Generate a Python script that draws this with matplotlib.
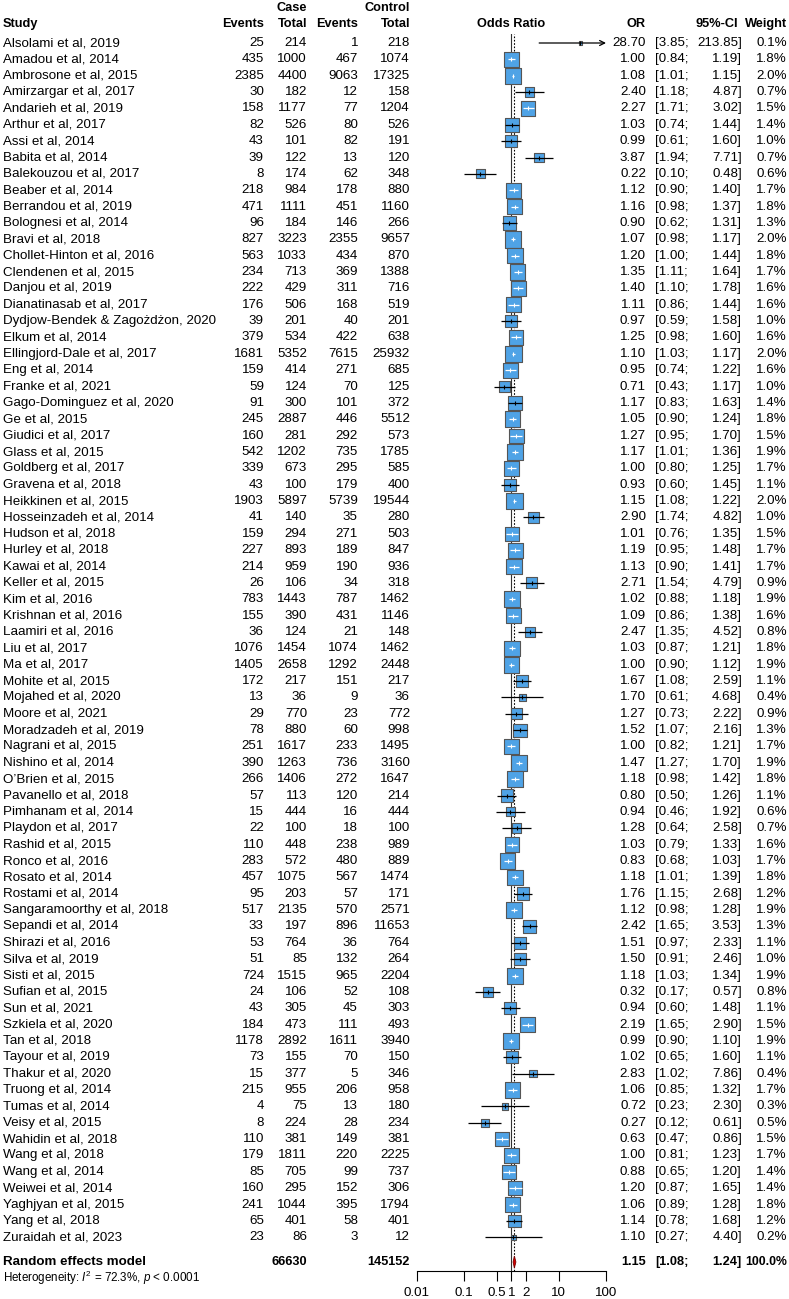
import matplotlib
matplotlib.use('Agg')
import matplotlib.pyplot as plt
from matplotlib import font_manager as fm
import numpy as np

# ---------------- data ----------------
studies = ["Alsolami et al, 2019", "Amadou et al, 2014", "Ambrosone et al, 2015", "Amirzargar et al, 2017",
           "Andarieh et al, 2019", "Arthur et al, 2017", "Assi et al, 2014", "Babita et al, 2014",
           "Balekouzou et al, 2017", "Beaber et al, 2014", "Berrandou et al, 2019", "Bolognesi et al, 2014",
           "Bravi et al, 2018", "Chollet-Hinton et al, 2016", "Clendenen et al, 2015", "Danjou et al, 2019",
           "Dianatinasab et al, 2017", "Dydjow-Bendek & Zagożdżon, 2020", "Elkum et al, 2014",
           "Ellingjord-Dale et al, 2017", "Eng et al, 2014", "Franke et al, 2021", "Gago-Dominguez et al, 2020",
           "Ge et al, 2015", "Giudici et al, 2017", "Glass et al, 2015", "Goldberg et al, 2017",
           "Gravena et al, 2018", "Heikkinen et al, 2015", "Hosseinzadeh et al, 2014", "Hudson et al, 2018",
           "Hurley et al, 2018", "Kawai et al, 2014", "Keller et al, 2015", "Kim et al, 2016",
           "Krishnan et al, 2016", "Laamiri et al, 2016", "Liu et al, 2017", "Ma et al, 2017",
           "Mohite et al, 2015", "Mojahed et al, 2020", "Moore et al, 2021", "Moradzadeh et al, 2019",
           "Nagrani et al, 2015", "Nishino et al, 2014", "O\u2019Brien et al, 2015", "Pavanello et al, 2018",
           "Pimhanam et al, 2014", "Playdon et al, 2017", "Rashid et al, 2015", "Ronco et al, 2016",
           "Rosato et al, 2014", "Rostami et al, 2014", "Sangaramoorthy et al, 2018", "Sepandi et al, 2014",
           "Shirazi et al, 2016", "Silva et al, 2019", "Sisti et al, 2015", "Sufian et al, 2015",
           "Sun et al, 2021", "Szkiela et al, 2020", "Tan et al, 2018", "Tayour et al, 2019",
           "Thakur et al, 2020", "Truong et al, 2014", "Tumas et al, 2014", "Veisy et al, 2015",
           "Wahidin et al, 2018", "Wang et al, 2018", "Wang et al, 2014", "Weiwei et al, 2014",
           "Yaghjyan et al, 2015", "Yang et al, 2018", "Zuraidah et al, 2023"]

case_events = [25, 435, 2385, 30, 158, 82, 43, 39, 8, 218, 471, 96, 827, 563, 234, 222, 176, 39, 379, 1681,
               159, 59, 91, 245, 160, 542, 339, 43, 1903, 41, 159, 227, 214, 26, 783, 155, 36, 1076, 1405,
               172, 13, 29, 78, 251, 390, 266, 57, 15, 22, 110, 283, 457, 95, 517, 33, 53, 51, 724, 24, 43,
               184, 1178, 73, 15, 215, 4, 8, 110, 179, 85, 160, 241, 65, 23]
case_total = [214, 1000, 4400, 182, 1177, 526, 101, 122, 174, 984, 1111, 184, 3223, 1033, 713, 429, 506, 201,
              534, 5352, 414, 124, 300, 2887, 281, 1202, 673, 100, 5897, 140, 294, 893, 959, 106, 1443, 390,
              124, 1454, 2658, 217, 36, 770, 880, 1617, 1263, 1406, 113, 444, 100, 448, 572, 1075, 203, 2135,
              197, 764, 85, 1515, 106, 305, 473, 2892, 155, 377, 955, 75, 224, 381, 1811, 705, 295, 1044,
              401, 86]
ctrl_events = [1, 467, 9063, 12, 77, 80, 82, 13, 62, 178, 451, 146, 2355, 434, 369, 311, 168, 40, 422, 7615,
               271, 70, 101, 446, 292, 735, 295, 179, 5739, 35, 271, 189, 190, 34, 787, 431, 21, 1074, 1292,
               151, 9, 23, 60, 233, 736, 272, 120, 16, 18, 238, 480, 567, 57, 570, 896, 36, 132, 965, 52, 45,
               111, 1611, 70, 5, 206, 13, 28, 149, 220, 99, 152, 395, 58, 3]
ctrl_total = [218, 1074, 17325, 158, 1204, 526, 191, 120, 348, 880, 1160, 266, 9657, 870, 1388, 716, 519, 201,
              638, 25932, 685, 125, 372, 5512, 573, 1785, 585, 400, 19544, 280, 503, 847, 936, 318, 1462, 1146,
              148, 1462, 2448, 217, 36, 772, 998, 1495, 3160, 1647, 214, 444, 100, 989, 889, 1474, 171, 2571,
              11653, 764, 264, 2204, 108, 303, 493, 3940, 150, 346, 958, 180, 234, 381, 2225, 737, 306, 1794,
              401, 12]
odds_ratio = [28.70, 1.00, 1.08, 2.40, 2.27, 1.03, 0.99, 3.87, 0.22, 1.12, 1.16, 0.90, 1.07, 1.20, 1.35, 1.40,
              1.11, 0.97, 1.25, 1.10, 0.95, 0.71, 1.17, 1.05, 1.27, 1.17, 1.00, 0.93, 1.15, 2.90, 1.01, 1.19,
              1.13, 2.71, 1.02, 1.09, 2.47, 1.03, 1.00, 1.67, 1.70, 1.27, 1.52, 1.00, 1.47, 1.18, 0.80, 0.94,
              1.28, 1.03, 0.83, 1.18, 1.76, 1.12, 2.42, 1.51, 1.50, 1.18, 0.32, 0.94, 2.19, 0.99, 1.02, 2.83,
              1.06, 0.72, 0.27, 0.63, 1.00, 0.88, 1.20, 1.06, 1.14, 1.10]
ci_lower = [3.85, 0.84, 1.01, 1.18, 1.71, 0.74, 0.61, 1.94, 0.10, 0.90, 0.98, 0.62, 0.98, 1.00, 1.11, 1.10,
            0.86, 0.59, 0.98, 1.03, 0.74, 0.43, 0.83, 0.90, 0.95, 1.01, 0.80, 0.60, 1.08, 1.74, 0.76, 0.95,
            0.90, 1.54, 0.88, 0.86, 1.35, 0.87, 0.90, 1.08, 0.61, 0.73, 1.07, 0.82, 1.27, 0.98, 0.50, 0.46,
            0.64, 0.79, 0.68, 1.01, 1.15, 0.98, 1.65, 0.97, 0.91, 1.03, 0.17, 0.60, 1.65, 0.90, 0.65, 1.02,
            0.85, 0.23, 0.12, 0.47, 0.81, 0.65, 0.87, 0.89, 0.78, 0.27]
ci_upper = [213.85, 1.19, 1.15, 4.87, 3.02, 1.44, 1.60, 7.71, 0.48, 1.40, 1.37, 1.31, 1.17, 1.44, 1.64, 1.78,
            1.44, 1.58, 1.60, 1.17, 1.22, 1.17, 1.63, 1.24, 1.70, 1.36, 1.25, 1.45, 1.22, 4.82, 1.35, 1.48,
            1.41, 4.79, 1.18, 1.38, 4.52, 1.21, 1.12, 2.59, 4.68, 2.22, 2.16, 1.21, 1.70, 1.42, 1.26, 1.92,
            2.58, 1.33, 1.03, 1.39, 2.68, 1.28, 3.53, 2.33, 2.46, 1.34, 0.57, 1.48, 2.90, 1.10, 1.60, 7.86,
            1.32, 2.30, 0.61, 0.86, 1.23, 1.20, 1.65, 1.28, 1.68, 4.40]
weight_pct = [0.1, 1.8, 2.0, 0.7, 1.5, 1.4, 1.0, 0.7, 0.6, 1.7, 1.8, 1.3, 2.0, 1.8, 1.7, 1.6, 1.6, 1.0, 1.6, 2.0,
              1.6, 1.0, 1.4, 1.8, 1.5, 1.9, 1.7, 1.1, 2.0, 1.0, 1.5, 1.7, 1.7, 0.9, 1.9, 1.6, 0.8, 1.8, 1.9,
              1.1, 0.4, 0.9, 1.3, 1.7, 1.9, 1.8, 1.1, 0.6, 0.7, 1.6, 1.7, 1.8, 1.2, 1.9, 1.3, 1.1, 1.0, 1.9,
              0.8, 1.1, 1.5, 1.9, 1.1, 0.4, 1.7, 0.3, 0.5, 1.5, 1.7, 1.4, 1.4, 1.8, 1.2, 0.2]

pooled_label = "Random effects model"
pooled_case_total = 66630
pooled_ctrl_total = 145152
pooled_or, pooled_lower, pooled_upper = 1.15, 1.08, 1.24
pooled_weight = "100.0%"
heterogeneity = r"Heterogeneity: $I^2$ = 72.3%, $p$ < 0.0001"
axis_ticks = [0.01, 0.1, 0.5, 1, 2, 10, 100]
axis_ticklabels = ["0.01", "0.1", "0.5", "1", "2", "10", "100"]

# ---------------- fonts ----------------
def pick(fams):
    for f in fams:
        try:
            fm.findfont(fm.FontProperties(family=f), fallback_to_default=False)
            return f
        except Exception:
            pass
    return 'DejaVu Sans'

FONT = pick(['Liberation Sans', 'Arial'])
plt.rcParams['font.family'] = [FONT, 'DejaVu Sans']
plt.rcParams['mathtext.fontset'] = 'custom'
plt.rcParams['mathtext.rm'] = FONT
plt.rcParams['mathtext.it'] = FONT + ':italic'

# ---------------- layout ----------------
W, H = 789, 1299
FS = 9.6
FSB = 9.2
Y0, S = 43.0, 16.36
n = len(studies)
ys = Y0 + S * np.arange(n)
y_re = 1262.0
y_het = 1278.0
axis_y = 1271.0
X_LO, X_HI = 417.0, 606.0

fig = plt.figure(figsize=(W / 100, H / 100), dpi=100)
ax_t = fig.add_axes([0, 0, 1, 1])
ax_t.set_xlim(0, W)
ax_t.set_ylim(H, 0)
ax_t.axis('off')

col_study = 3
col_ce, col_ct, col_ke, col_kt = 264, 307, 358, 410
col_or, col_cil, col_ciu, col_w = 646, 655, 742, 787

def txt(x, y, s, ha='right', bold=False, size=None, **kw):
    if size is None:
        size = FSB if bold else FS
    ax_t.text(x, y, s, ha=ha, va='center', fontsize=size,
              fontweight='bold' if bold else 'normal', **kw)

# header
txt(col_ct, 8, "Case", bold=True)
txt(col_kt, 8, "Control", bold=True)
hy = 24
txt(col_study, hy, "Study", ha='left', bold=True)
txt(col_ce, hy, "Events", bold=True)
txt(col_ct, hy, "Total", bold=True)
txt(col_ke, hy, "Events", bold=True)
txt(col_kt, hy, "Total", bold=True)
txt(col_or, hy, "OR", bold=True)
txt(col_ciu - 4, hy, "95%-CI", bold=True)
txt(col_w, hy, "Weight", bold=True)
txt(0.5 * (X_LO + X_HI) + 0, hy, "Odds Ratio", ha='center', bold=True)

for i in range(n):
    y = ys[i]
    txt(col_study, y, studies[i], ha='left')
    txt(col_ce, y, str(case_events[i]))
    txt(col_ct, y, str(case_total[i]))
    txt(col_ke, y, str(ctrl_events[i]))
    txt(col_kt, y, str(ctrl_total[i]))
    txt(col_or, y, f"{odds_ratio[i]:.2f}")
    txt(col_cil, y, f"[{ci_lower[i]:.2f};", ha='left')
    txt(col_ciu, y, f"{ci_upper[i]:.2f}]")
    txt(col_w, y, f"{weight_pct[i]:.1f}%")

txt(col_study, y_re, pooled_label, ha='left', bold=True, size=FS)
txt(col_ct, y_re, str(pooled_case_total), bold=True)
txt(col_kt, y_re, str(pooled_ctrl_total), bold=True)
txt(col_or, y_re, f"{pooled_or:.2f}", bold=True)
txt(col_cil, y_re, f"[{pooled_lower:.2f};", ha='left', bold=True)
txt(col_ciu, y_re, f"{pooled_upper:.2f}]", bold=True)
txt(col_w, y_re, pooled_weight, bold=True, size=8.8)
txt(col_study, y_het, heterogeneity, ha='left', size=FS - 1.2)

# ---------------- forest panel ----------------
top_px = Y0 - 9
ax_f = fig.add_axes([X_LO / W, 1 - axis_y / H, (X_HI - X_LO) / W, (axis_y - top_px) / H])
ax_f.set_xscale('log')
ax_f.set_xlim(0.01, 100)
ax_f.set_ylim(axis_y, top_px)
ax_f.patch.set_alpha(0)
for sp in ['top', 'left', 'right']:
    ax_f.spines[sp].set_visible(False)
ax_f.spines['bottom'].set_linewidth(0.8)
ax_f.set_yticks([])
ax_f.set_xticks(axis_ticks)
ax_f.set_xticklabels(axis_ticklabels)
ax_f.xaxis.set_minor_locator(matplotlib.ticker.NullLocator())
ax_f.tick_params(axis='x', direction='out', length=7.5, width=0.8, labelsize=FS, pad=4)

ax_f.axvline(1, color='#333333', lw=0.8, zorder=1)
ax_f.axvline(pooled_or, color='black', lw=0.8, ls=(0, (1.5, 1.5)), zorder=1)

px_per_dec = (X_HI - X_LO) / 4.0
sides_px = 11.6 * np.sqrt(np.array(weight_pct))
sizes = (sides_px * 0.72) ** 2
ax_f.scatter(odds_ratio, ys, s=sizes, marker='s', facecolor='#4FA3E6',
             edgecolor='#555555', linewidth=0.8, zorder=3, clip_on=False)

for i in range(n):
    y = ys[i]
    half = sides_px[i] / 2
    d_lo = (np.log10(odds_ratio[i]) - np.log10(ci_lower[i])) * px_per_dec
    d_hi = (np.log10(ci_upper[i]) - np.log10(odds_ratio[i])) * px_per_dec
    inside = d_lo <= half and d_hi <= half
    col = 'white' if inside else 'black'
    if ci_upper[i] > 100:
        ax_f.annotate('', xy=(100, y), xytext=(ci_lower[i], y),
                      arrowprops=dict(arrowstyle='->', lw=0.9, color='black',
                                      shrinkA=0, shrinkB=0, mutation_scale=9), zorder=4)
    else:
        ax_f.plot([ci_lower[i], ci_upper[i]], [y, y], color=col, lw=0.9, zorder=4,
                  solid_capstyle='butt')
    ax_f.plot([odds_ratio[i]], [y], marker='|', ms=3, mew=0.8, color=col, zorder=5)

dh = 6.0
ax_f.fill([pooled_lower, pooled_or, pooled_upper, pooled_or],
          [y_re, y_re - dh, y_re, y_re + dh],
          facecolor='#D10000', edgecolor='#7A0000', lw=0.6, zorder=4, clip_on=False)

fig.savefig('out.png', dpi=100)
